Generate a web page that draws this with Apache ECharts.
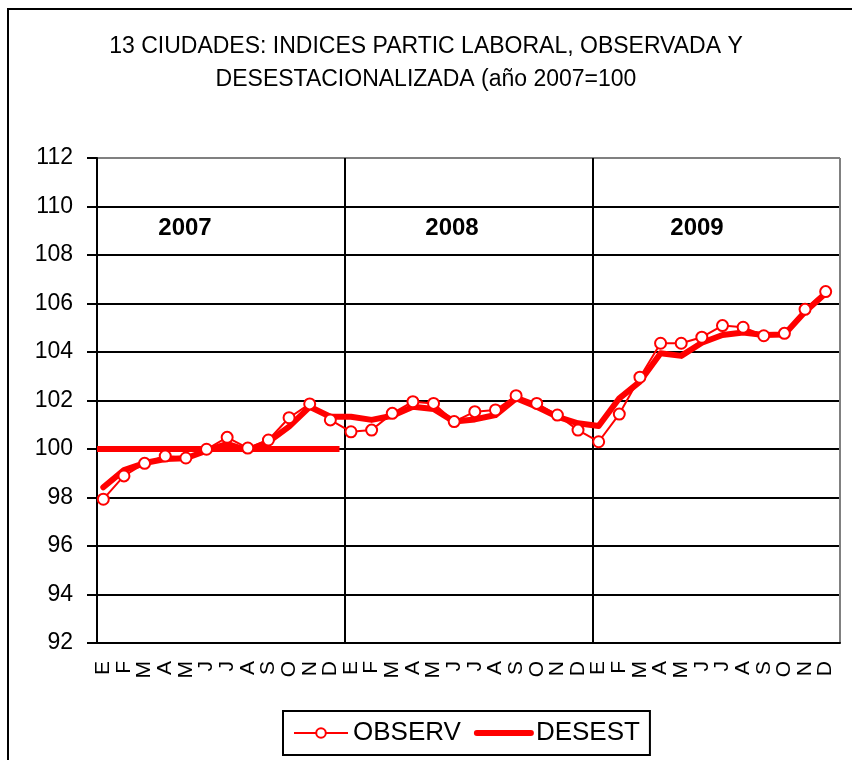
<!DOCTYPE html>
<html>
<head>
<meta charset="utf-8">
<script src="https://cdn.jsdelivr.net/npm/echarts@6/dist/echarts.min.js"></script>
<style>
  html, body { margin: 0; padding: 0; background: #fff; }
  #chart { width: 852px; height: 760px; }
</style>
</head>
<body>
<div id="chart"></div>
<script>
const months = ["E", "F", "M", "A", "M", "J", "J", "A", "S", "O", "N", "D"];
const categories = [...months, ...months, ...months];
const years = ["2007", "2008", "2009"];

const observ = [
  97.93, 98.89, 99.41, 99.71, 99.63, 99.99, 100.48, 100.04, 100.37, 101.29, 101.86, 101.2,
  100.71, 100.78, 101.47, 101.95, 101.88, 101.13, 101.54, 101.61, 102.2, 101.88, 101.4, 100.78,
  100.3, 101.44, 102.96, 104.36, 104.36, 104.61, 105.09, 105.02, 104.67, 104.77, 105.76, 106.49
];
const desest = [
  98.42, 99.13, 99.42, 99.59, 99.62, 99.93, 100.21, 99.93, 100.3, 100.92, 101.74, 101.33,
  101.33, 101.2, 101.37, 101.74, 101.65, 101.13, 101.22, 101.4, 102.09, 101.74, 101.33, 101.06,
  100.95, 102.09, 102.78, 103.95, 103.84, 104.38, 104.7, 104.8, 104.7, 104.72, 105.66, 106.42
];
// base 2007 = 100, drawn over the 2007 months (in month units from the axis start)
const base2007 = [[0, 100], [11.75, 100]];

const FONT = "'Liberation Sans', Arial, sans-serif";
const RED = "#FF0000";

const chart = echarts.init(document.getElementById("chart"));

const ySplitColors = Array(10).fill("#000").concat(["#808080"]);

chart.setOption({
  backgroundColor: "#fff",
  animation: false,
  textStyle: { fontFamily: FONT },
  title: {
    text: "13 CIUDADES: INDICES PARTIC LABORAL, OBSERVADA Y\nDESESTACIONALIZADA (año 2007=100",
    left: "center",
    top: 30,
    padding: 0,
    textStyle: {
      fontFamily: FONT,
      fontSize: 23,
      fontWeight: "normal",
      color: "#000",
      lineHeight: 33,
      align: "center"
    }
  },
  legend: {
    data: [
      { name: "OBSERV" },
      { name: "DESEST", lineStyle: { width: 6 }, itemStyle: { opacity: 0 } }
    ],
    left: 283,
    top: 711,
    orient: "horizontal",
    borderColor: "#000",
    borderWidth: 2,
    padding: [9, 10, 9, 10],
    itemWidth: 54,
    itemHeight: 12,
    itemGap: 13,
    textStyle: { fontFamily: FONT, fontSize: 26, color: "#000" }
  },
  grid: [
    { left: 97, right: 12, top: 158, bottom: 117 },
    { left: 93, right: 16, top: 158, bottom: 117 }
  ],
  xAxis: [
    {
      gridIndex: 0,
      type: "category",
      data: categories,
      boundaryGap: true,
      axisLine: { lineStyle: { color: "#000", width: 2 } },
      axisTick: { interval: 11, length: 9, lineStyle: { color: "#000", width: 2 } },
      axisLabel: { show: false },
      splitLine: {
        show: true,
        interval: 11,
        lineStyle: { color: ["#000", "#000", "#000", "#808080"], width: 2 }
      }
    },
    {
      gridIndex: 1,
      type: "category",
      data: categories,
      boundaryGap: true,
      axisLine: { show: false },
      axisTick: { show: false },
      splitLine: { show: false },
      axisLabel: {
        interval: 0,
        rotate: 90,
        margin: 18,
        fontFamily: FONT,
        fontSize: 21,
        color: "#000"
      }
    },
    {
      gridIndex: 0,
      type: "value",
      min: 0,
      max: 36,
      show: false
    }
  ],
  yAxis: [
    {
      gridIndex: 0,
      type: "value",
      min: 92,
      max: 112,
      interval: 2,
      axisLine: { show: true, lineStyle: { color: "#000", width: 2 } },
      axisTick: { show: true, length: 10, lineStyle: { color: "#000", width: 2 } },
      axisLabel: { margin: 24, fontFamily: FONT, fontSize: 23, color: "#000" },
      splitLine: { show: true, lineStyle: { color: ySplitColors, width: 2 } }
    },
    {
      gridIndex: 1,
      type: "value",
      min: 92,
      max: 112,
      interval: 2,
      show: false
    }
  ],
  graphic: [
    {
      type: "rect",
      shape: { x: 8, y: 9, width: 870, height: 780 },
      style: { fill: "none", stroke: "#000", lineWidth: 2 },
      silent: true
    },
    ...years.map((y, i) => ({
      type: "text",
      x: [185, 452, 697][i],
      y: 228,
      style: {
        text: y,
        fontFamily: FONT,
        fontSize: 24,
        fontWeight: "bold",
        fill: "#000",
        align: "center",
        verticalAlign: "middle"
      }
    }))
  ],
  series: [
    {
      name: "base",
      type: "line",
      xAxisIndex: 2,
      yAxisIndex: 0,
      symbol: "none",
      z: 2,
      lineStyle: { color: RED, width: 6 },
      data: base2007
    },
    {
      name: "DESEST",
      type: "line",
      xAxisIndex: 1,
      yAxisIndex: 1,
      symbol: "none",
      z: 3,
      color: RED,
      lineStyle: { color: RED, width: 6, cap: "round", join: "round" },
      data: desest
    },
    {
      name: "OBSERV",
      type: "line",
      xAxisIndex: 1,
      yAxisIndex: 1,
      symbol: "circle",
      symbolSize: 11,
      showAllSymbol: true,
      z: 4,
      lineStyle: { color: RED, width: 2 },
      itemStyle: { color: "#fff", borderColor: RED, borderWidth: 2 },
      data: observ
    }
  ]
});
</script>
</body>
</html>
